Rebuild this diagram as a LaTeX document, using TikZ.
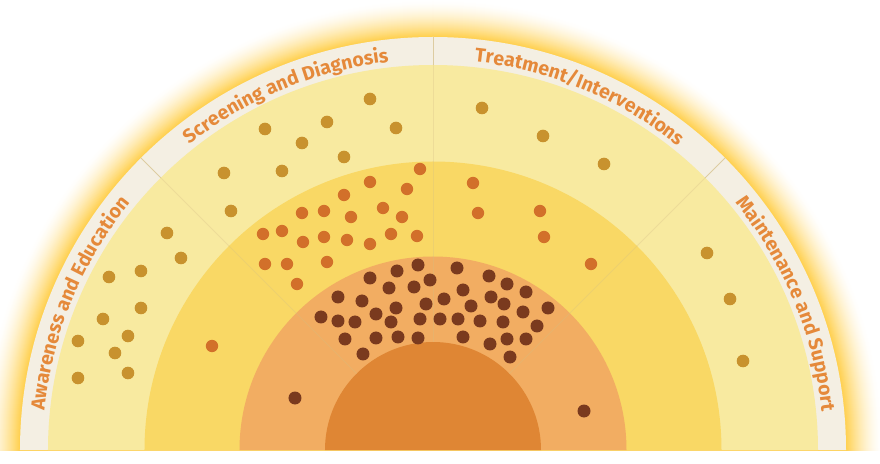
\documentclass[tikz,border=0pt]{standalone}
\usepackage{fontspec}
\usetikzlibrary{decorations.text}
\newfontfamily\lblfont{Fira Sans}
\definecolor{glowc}{HTML}{FFCF4A}
\definecolor{bandc}{HTML}{F4EFE3}
\definecolor{ringa}{HTML}{F8EAA0}
\definecolor{ringb}{HTML}{F9D865}
\definecolor{ringc}{HTML}{F2AD62}
\definecolor{corec}{HTML}{DF8634}
\definecolor{golddot}{HTML}{C8922E}
\definecolor{orangedot}{HTML}{D2702A}
\definecolor{browndot}{HTML}{7A3A1E}
\definecolor{lblc}{HTML}{E5893A}
\definecolor{divc}{HTML}{D4BE86}
\begin{document}
\begin{tikzpicture}[x=1pt,y=1pt,
  gold/.style={fill=golddot},
  orng/.style={fill=orangedot},
  brwn/.style={fill=browndot},
  divider/.style={draw=divc, line width=0.9pt},
  lbl/.style={decorate, decoration={text along path, text align=center, text color=lblc,
     text={|\lblfont\bfseries\fontsize{19.5}{22}\selectfont|#1}}}]
\useasboundingbox (-433,-13) rectangle (447,450);
\fill[white] (-433,-13) rectangle (447,450);
% glow
\begin{scope}
\clip (-433,0) rectangle (447,450);
\foreach \i in {36,35,...,1}{
  \pgfmathsetmacro\p{100*(1-\i/37)^1.6}
  \fill[glowc!\p!white] (0,0) circle ({413+\i});
}
\end{scope}
% rings
\fill[bandc] (-413,0) arc (180:0:413) -- cycle;
\fill[ringa] (-385,0) arc (180:0:385) -- cycle;
\fill[ringb] (-288.5,0) arc (180:0:288.5) -- cycle;
\fill[ringc] (-193.5,0) arc (180:0:193.5) -- cycle;
\fill[corec] (-108,0) arc (180:0:108) -- cycle;
% dividers
\foreach \a in {45,90,135}{
  \draw[divider, opacity=0.7] (\a:385) -- (\a:413);
  \draw[divider, opacity=0.3] (\a:108) -- (\a:385);
}
% labels
\path[lbl={Awareness and Education}] (180:390.5) arc (180:135:390.5);
\path[lbl={Screening and Diagnosis}] (135:390.5) arc (135:90:390.5);
\path[lbl={Treatment/Interventions}] (90:390.5) arc (90:45:390.5);
\path[lbl={Maintenance and Support}] (45:390.5) arc (45:0:390.5);
% gold dots
\foreach \x/\y in {370/99,265/129,327/122,396/128,302/143,344/157,224/173,282/171,231/211,167/233,
  181/258,109/277,141/271,141/308,103/319,128/336,78/341,115/353,78/378,128/373,
  482/108,543/136,604/164,707/253,730/299,743/361}
  \fill[gold] ({\x-433},{450-\y}) circle (6.3);
% orange dots
\foreach \x/\y in {420/169,370/182,407/189,344/195,302/213,324/211,351/217,383/208,402/217,
  263/234,282/231,303/242,324/237,347/240,370/244,391/234,417/236,265/264,287/264,327/262,
  297/284,212/346,473/183,478/213,540/211,544/237,591/264}
  \fill[orng] ({\x-433},{450-\y}) circle (6.2);
% brown dots
\foreach \x/\y in {370/278,397/271,418/265,457/268,489/276,507/284,526/292,389/288,414/287,430/280,
  338/297,362/301,463/290,491/297,504/304,548/308,523/312,444/299,426/304,396/308,376/314,471/306,
  321/317,338/321,355/322,391/322,420/319,440/319,458/319,480/321,503/322,537/326,
  345/339,376/338,398/337,418/338,463/337,490/344,507/339,526/339,363/354,510/357,
  295/398,584/411}
  \fill[brwn] ({\x-433},{450-\y}) circle (6.5);
\end{tikzpicture}
\end{document}
